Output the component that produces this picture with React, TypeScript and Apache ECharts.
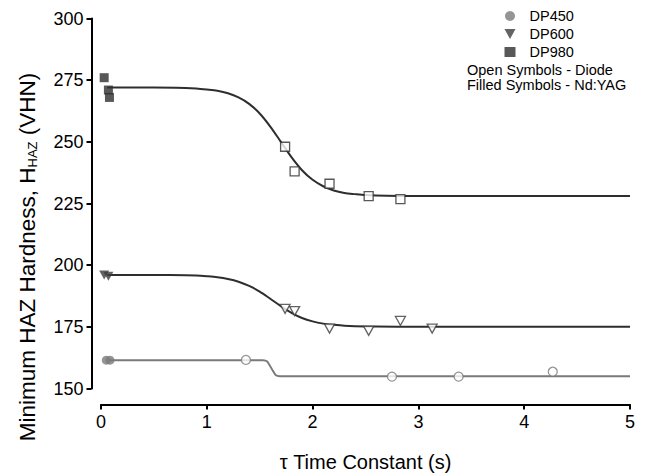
import React, { useEffect, useRef } from "react";
import * as echarts from "echarts";

// Fitted curves
const curve980: number[][] = [
  [0.06, 272], [0.5, 272], [0.8, 271.8], [0.9, 271.6], [1.0, 271.2], [1.1, 270.7], [1.2, 269.7],
  [1.3, 268], [1.4, 265.4], [1.5, 261.5], [1.6, 256.2], [1.7, 250], [1.8, 243.8], [1.9, 238.5],
  [2.0, 234.6], [2.1, 232], [2.2, 230.3], [2.3, 229.3], [2.4, 228.8], [2.5, 228.4], [2.7, 228.1],
  [3.0, 228], [5.0, 228],
];
const curve600: number[][] = [
  [0.06, 196], [0.5, 196], [0.8, 195.9], [0.9, 195.8], [1.0, 195.5], [1.1, 195.1], [1.2, 194.4],
  [1.3, 193.3], [1.4, 191.6], [1.5, 189.3], [1.6, 186.4], [1.7, 183.4], [1.8, 180.7], [1.9, 178.6],
  [2.0, 177.2], [2.1, 176.3], [2.2, 175.8], [2.3, 175.4], [2.4, 175.2], [2.6, 175.1], [3.0, 175],
  [5.0, 175],
];
const curve450: number[][] = [
  [0.08, 161.5], [1.53, 161.5], [1.57, 161], [1.62, 157.5], [1.65, 155.5], [1.69, 155], [5.0, 155],
];

// Measured points: filled = Nd:YAG, open = Diode
const dp980Filled: number[][] = [[0.03, 276], [0.07, 271], [0.08, 268]];
const dp980Open: number[][] = [[1.74, 248], [1.83, 238], [2.16, 233], [2.53, 228], [2.83, 226.8]];
const dp600Filled: number[][] = [[0.03, 196], [0.07, 195.5]];
const dp600Open: number[][] = [[1.74, 182.3], [1.83, 181.4], [2.16, 174.3], [2.53, 173.4], [2.83, 177.4], [3.13, 174.3]];
const dp450Filled: number[][] = [[0.05, 161.5], [0.085, 161.5]];
const dp450Open: number[][] = [[1.37, 161.6], [2.75, 154.8], [3.38, 154.8], [4.27, 156.8]];

const legendNames = ["DP450", "DP600", "DP980"];
const noteLines = ["Open Symbols - Diode", "Filled Symbols - Nd:YAG"];
const xTitle = "τ Time Constant (s)";
const yTitle = "Minimum HAZ Hardness, H{sub|HAZ} (VHN)";

const FONT = "'Liberation Sans', Arial, sans-serif";
const DARK = "#2e2e2e";
const TRI = "#3c3c3c";
const GREY = "#7a7a7a";
const TRI_PATH = "path://M0,0 L10,0 L5,9 Z";

export default function App() {
  const ref = useRef<HTMLDivElement>(null);
  useEffect(() => {
    if (!ref.current) return;
    const chart = echarts.init(ref.current, undefined, { renderer: "svg" });
    const openStyle = (c: string) => ({ color: "#ffffff", borderColor: c, borderWidth: 1.3 });
    const axisLine = { show: true, onZero: false, lineStyle: { color: "#000", width: 2 } };
    const axisTick = { show: true, length: 5, lineStyle: { color: "#000", width: 2 } };
    chart.setOption({
      animation: false,
      backgroundColor: "#ffffff",
      textStyle: { fontFamily: FONT },
      grid: {
        left: 101, right: 15, top: 18.5, bottom: 85.5,
        containLabel: false, outerBoundsMode: "none",
      },
      legend: {
        orient: "vertical",
        left: 504.5,
        top: 8.5,
        padding: 0,
        data: [
          { name: legendNames[0], icon: "circle" },
          { name: legendNames[1], icon: TRI_PATH },
          { name: legendNames[2], icon: "rect" },
        ],
        itemWidth: 11,
        itemHeight: 10,
        itemGap: 3,
        textStyle: { fontSize: 14.5, lineHeight: 15, color: "#000", fontFamily: FONT, padding: [0, 0, 0, 9] },
      },
      graphic: [
        ...noteLines.map((t, i) => ({
          type: "text",
          left: 467,
          top: 62 + i * 15.5,
          style: { text: t, fontSize: 14.5, fill: "#000", fontFamily: FONT },
        })),
        {
          type: "text",
          x: 27,
          y: 257,
          rotation: Math.PI / 2,
          style: {
            text: yTitle,
            fontSize: 22.5,
            fill: "#000",
            fontFamily: FONT,
            align: "center",
            verticalAlign: "middle",
            rich: {
              sub: { fontSize: 13, fill: "#000", fontFamily: FONT, verticalAlign: "bottom", padding: [9, 0, 0, 0] },
            },
          },
        },
      ],
      xAxis: {
        type: "value",
        position: "bottom",
        min: 0,
        max: 5,
        interval: 1,
        offset: 16,
        name: xTitle,
        nameLocation: "middle",
        nameGap: 47,
        nameTextStyle: { fontSize: 20, color: "#000", fontFamily: FONT },
        axisLine,
        axisTick,
        axisLabel: { fontSize: 18, color: "#000", margin: 8, fontFamily: FONT },
        splitLine: { show: false },
      },
      yAxis: {
        type: "value",
        position: "left",
        min: 150,
        max: 300,
        interval: 25,
        offset: 9.5,
        axisLine,
        axisTick,
        axisLabel: { fontSize: 18, color: "#000", margin: 8, fontFamily: FONT },
        splitLine: { show: false },
      },
      series: [
        { name: "fit980", type: "line", data: curve980, smooth: 0.3, showSymbol: false, lineStyle: { color: DARK, width: 2 }, z: 2 },
        { name: "fit600", type: "line", data: curve600, smooth: 0.3, showSymbol: false, lineStyle: { color: DARK, width: 2 }, z: 2 },
        { name: "fit450", type: "line", data: curve450, smooth: 0.2, showSymbol: false, lineStyle: { color: GREY, width: 2 }, z: 2 },
        { name: "DP980", type: "scatter", data: dp980Filled, symbol: "rect", symbolSize: 9, itemStyle: { color: DARK }, z: 3 },
        { name: "DP980 Diode", type: "scatter", data: dp980Open, symbol: "rect", symbolSize: 9, itemStyle: openStyle(DARK), z: 3 },
        { name: "DP600", type: "scatter", data: dp600Filled, symbol: TRI_PATH, symbolSize: [10, 9], itemStyle: { color: TRI }, z: 3 },
        { name: "DP600 Diode", type: "scatter", data: dp600Open, symbol: TRI_PATH, symbolSize: [10, 9], itemStyle: openStyle(TRI), z: 3 },
        { name: "DP450", type: "scatter", data: dp450Filled, symbol: "circle", symbolSize: 9, itemStyle: { color: GREY }, z: 3 },
        { name: "DP450 Diode", type: "scatter", data: dp450Open, symbol: "circle", symbolSize: 9, itemStyle: openStyle(GREY), z: 3 },
      ],
    });
    return () => chart.dispose();
  }, []);
  return <div ref={ref} style={{ position: "absolute", left: 0, top: 0, width: 645, height: 474 }} />;
}
